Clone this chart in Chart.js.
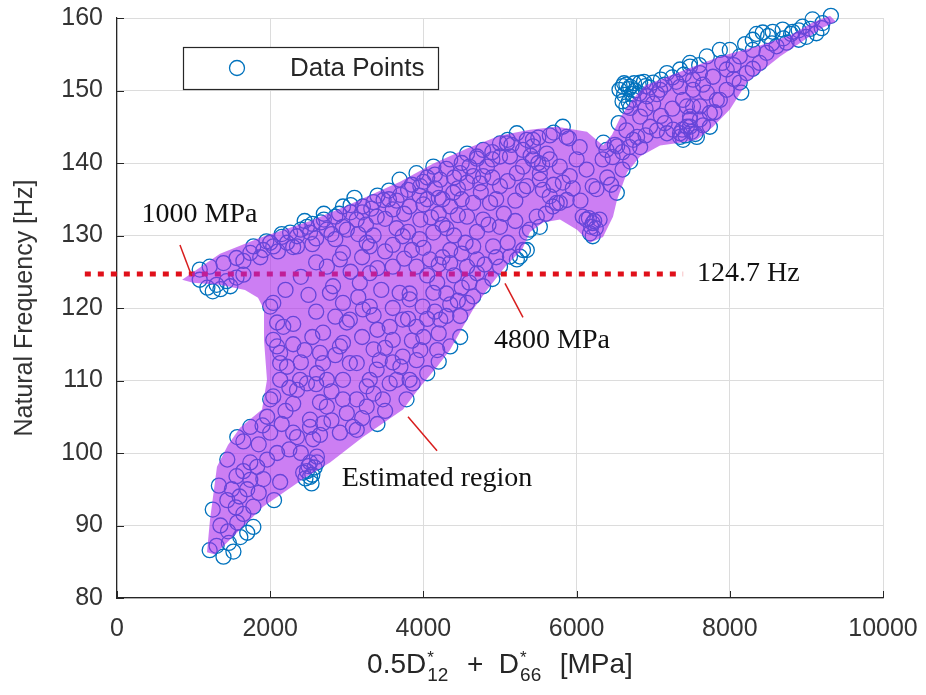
<!DOCTYPE html>
<html>
<head>
<meta charset="utf-8">
<script src="https://cdn.jsdelivr.net/npm/chart.js@4.4.0/dist/chart.umd.min.js"></script>
<style>
  html, body { margin: 0; padding: 0; background: #fff; }
  #wrap { width: 926px; height: 695px; }
</style>
</head>
<body>
<div id="wrap"><canvas id="chart-freq" width="926" height="695"></canvas></div>
<script>
// ==========================================
// Data: (0.5 D*12 + D*66 [MPa], natural frequency [Hz])
// ==========================================

const lowerArm = [
  [1210, 86.6], [1390, 85.7], [1520, 86.4], [1610, 88.4], [1700, 89.0], [1780, 89.8],
  [1570, 90.4], [1440, 93.5], [1250, 92.2], [1780, 92.6], [1440, 99.1], [1650, 101.6],
  [1570, 102.2], [1740, 103.6], [1560, 96.8], [1910, 96.4], [1740, 98.7], [1830, 98.1],
  [1740, 96.3], [1960, 99.1], [2090, 100.0], [1960, 105.0], [2000, 102.8], [2130, 96.0],
  [2050, 93.5], [1300, 87.2], [1460, 87.6], [1650, 91.6], [1330, 95.5], [1850, 101.2],
  [1500, 95.0], [1600, 94.0], [1700, 95.0], [1850, 94.5], [1900, 103.8], [1350, 90.0],
  [1450, 89.2], [1550, 92.5], [1650, 97.5]
];

const cluster2500 = [
  [2480, 97.5], [2550, 97.0], [2500, 98.2], [2580, 98.0], [2460, 96.5], [2540, 95.8],
  [2430, 97.3], [2520, 98.7], [2610, 99.5], [2610, 98.7], [2520, 96.7]
];

const lowerInterior = [
  [2090, 114.7], [2130, 112.4], [2040, 107.8], [2520, 104.6], [2560, 101.9], [2300, 102.8],
  [2390, 110.1], [2690, 112.4], [2910, 114.7], [3130, 112.4], [3300, 110.1], [3560, 109.6],
  [3820, 110.1], [3910, 112.8], [4180, 114.2], [3430, 112.8], [2740, 110.1], [3260, 106.4],
  [3080, 103.6], [2910, 102.8], [2480, 109.6], [2350, 102.2], [2520, 103.6], [2690, 104.1],
  [3130, 103.2], [2740, 106.4], [2950, 107.4], [2000, 107.4], [2130, 113.8], [2220, 111.9],
  [2130, 110.1], [2350, 108.7], [2650, 113.8], [2610, 111.0], [2950, 115.2], [3040, 112.4],
  [2950, 110.1], [3390, 111.5], [3260, 109.2], [3470, 107.4], [3130, 107.4], [3730, 113.3],
  [3650, 110.1], [3860, 109.6], [3780, 107.4], [4050, 111.0], [4200, 112.6], [2800, 108.5],
  [3350, 108.2], [3700, 111.9], [2650, 107.0], [2200, 105.8], [2300, 106.8], [2450, 114.2],
  [2300, 115.0], [2400, 112.5], [2550, 116.0], [2250, 109.0], [2850, 113.5], [3000, 105.5],
  [3200, 104.8], [3500, 105.8], [3600, 112.5], [3350, 114.3], [2800, 104.5], [2600, 109.5],
  [2150, 104.0], [2250, 100.5], [2400, 100.0], [2650, 102.5], [3400, 104.0]
];

const midInterior = [
  [2910, 126.7], [3300, 128.5], [3170, 123.5], [2780, 122.1], [2950, 120.7], [3000, 118.0],
  [3300, 120.2], [2040, 120.7], [2090, 118.0], [2690, 116.6], [3560, 117.4], [3820, 122.0],
  [4085, 126.7], [3730, 129.9], [4180, 123.5], [3990, 120.2], [4300, 118.9], [4480, 116.0],
  [2000, 120.2], [2170, 117.4], [2040, 115.6], [2820, 123.0], [3210, 119.8], [3040, 118.4],
  [2740, 125.7], [2950, 127.6], [3260, 129.0], [3600, 125.7], [3690, 122.1], [3730, 118.4],
  [3600, 115.6], [4570, 120.7], [4480, 118.9], [4350, 114.7], [5000, 125.7], [4780, 123.0],
  [4650, 121.6], [5130, 127.1], [4910, 128.5], [4700, 126.7], [4570, 125.7], [4350, 128.0],
  [4130, 130.4], [3910, 125.7], [3820, 121.2], [4130, 122.1], [4220, 118.4], [3910, 117.4],
  [3960, 114.2], [3400, 125.5], [3500, 127.8], [3300, 124.8], [3600, 128.7], [3750, 126.8],
  [4000, 128.3], [4250, 127.0], [4400, 124.5], [4300, 122.0], [4450, 121.0], [4050, 118.5],
  [3850, 115.5], [3500, 114.5], [3400, 117.0], [3200, 116.0], [3150, 121.5], [2850, 118.8],
  [2600, 119.5], [2500, 121.8], [2400, 124.3], [2300, 117.8], [2200, 122.5], [2600, 126.3]
];

const centerCloud = [
  [3650, 131.0], [3800, 130.5], [3950, 129.5], [4100, 132.5], [4250, 131.5], [4400, 130.0],
  [4550, 129.0], [4700, 130.5], [4850, 131.5], [5050, 133.0], [5200, 132.0], [4950, 135.0],
  [4650, 134.5], [4450, 132.8], [4200, 133.0], [3850, 128.0], [4050, 124.5], [4200, 126.0],
  [4350, 126.2], [4500, 127.5], [4650, 128.5], [4800, 126.0], [4950, 127.0], [4600, 123.5],
  [4500, 122.8], [4350, 120.5], [4150, 119.5], [4700, 124.8], [4900, 124.0], [5100, 129.0],
  [5200, 134.8], [5100, 137.5], [4900, 138.0], [4600, 139.5], [4400, 138.0], [4150, 136.5],
  [3950, 135.5], [4300, 131.0], [4500, 135.0], [4750, 136.0], [5300, 139.5], [5500, 140.0],
  [5700, 137.0], [5950, 136.5], [6050, 134.8], [5600, 133.0], [4050, 138.0], [3800, 136.3],
  [3550, 135.0], [3350, 130.0], [3200, 127.0], [3050, 125.0], [3450, 122.5], [3600, 120.0],
  [3350, 119.0], [3800, 118.5], [4000, 116.0], [4200, 116.5]
];

const leftTip = [
  [1080, 125.3], [1180, 122.8], [1300, 123.2], [1430, 123.7], [1560, 124.2], [1080, 123.9],
  [1210, 125.7], [1390, 126.2], [1560, 126.9], [1250, 122.3], [1350, 122.6], [1480, 123.0],
  [1650, 124.6]
];

const upperBand = [
  [1740, 127.6], [1910, 128.0], [2040, 128.5], [2220, 129.0], [1780, 128.5], [2350, 129.9],
  [2520, 130.4], [2740, 130.8], [2950, 131.2], [3130, 132.2], [3390, 132.6], [3600, 133.6],
  [2480, 131.2], [2260, 130.4], [2000, 129.0], [2950, 134.0], [3210, 134.0], [3320, 133.7],
  [2660, 131.8], [2850, 132.6], [3050, 133.2], [3480, 134.9], [3700, 135.6], [3820, 134.0],
  [3960, 132.2], [4050, 135.0], [3910, 138.6], [3690, 137.7], [4130, 139.5], [4350, 140.5],
  [4570, 141.3], [4780, 141.8], [5000, 142.7], [5220, 144.1], [5350, 143.2], [5820, 145.0],
  [5430, 142.3], [5610, 141.3], [5130, 140.9], [4830, 139.5], [4480, 138.6], [4220, 137.7],
  [3960, 136.8], [4390, 135.9], [4740, 137.2], [5000, 136.8], [5350, 136.8], [5520, 138.6],
  [5780, 139.5], [4350, 134.0], [4570, 132.6], [4780, 132.2], [5000, 131.2], [1650, 126.5],
  [1870, 127.0], [2100, 127.8], [2300, 128.4], [2600, 129.6], [2800, 130.2], [3000, 130.8],
  [3250, 131.5], [3500, 132.3], [3750, 133.0], [4000, 134.3], [4200, 135.2], [4450, 136.5],
  [4650, 138.2], [4900, 140.5], [5150, 142.5], [5400, 141.0], [5650, 143.8], [5900, 143.4],
  [3100, 135.2], [3400, 135.5], [2700, 133.0], [2450, 132.0], [2150, 130.2], [4250, 135.0],
  [1950, 129.2], [2150, 129.8], [2400, 130.8], [2550, 131.6], [2700, 132.2], [2900, 133.0],
  [3050, 134.2], [3200, 133.2], [3350, 134.6], [3550, 136.2], [3650, 134.8], [3850, 137.0],
  [4000, 137.4], [4150, 138.4], [4300, 139.2], [4500, 140.0], [4700, 140.6], [4900, 141.5],
  [5100, 143.2], [5300, 141.8], [5500, 143.5], [5700, 144.2], [5550, 139.8], [2350, 128.5],
  [2550, 128.8], [2850, 129.5], [3150, 130.2]
];

const neck = [
  [5300, 128.0], [5260, 127.1], [5220, 126.7], [5390, 130.8], [5520, 131.2], [6210, 131.7],
  [6175, 130.3], [6130, 132.2], [5690, 134.0], [5780, 134.5], [5430, 143.2], [5870, 143.6],
  [6040, 142.2], [6390, 141.8], [6470, 140.8], [6690, 142.2], [6830, 142.2], [6790, 143.6],
  [6600, 139.1], [6525, 135.9], [6260, 136.4], [6210, 136.8], [6340, 140.5], [6210, 129.9],
  [6080, 132.6], [6300, 132.2], [5740, 134.5], [5650, 135.4], [5820, 137.3], [5910, 138.2],
  [5520, 137.7], [5300, 136.3], [5350, 130.4], [5350, 128.0], [4870, 134.5], [4780, 138.2],
  [4570, 137.3], [4700, 140.9], [5000, 140.9], [5090, 142.7], [5650, 140.5], [6000, 140.5],
  [6130, 139.1], [5430, 140.5], [5220, 138.6], [5560, 136.3], [5870, 134.9], [5480, 132.6],
  [6190, 131.2], [6230, 132.0], [6160, 132.4], [6250, 131.0], [6400, 138.0], [6350, 142.8],
  [6500, 142.5], [6600, 141.5], [6700, 140.2], [6650, 144.5], [6550, 145.5], [6450, 137.0]
];

const cluster150 = [
  [6560, 150.1], [6700, 150.5], [6830, 151.1], [7000, 151.1], [6740, 148.7], [6650, 147.8],
  [6920, 149.2], [7090, 150.1], [7180, 152.4], [7350, 152.9], [7480, 153.8], [7520, 151.5],
  [6830, 146.4], [6960, 145.0], [6740, 143.2], [6530, 142.3], [7180, 144.1], [7260, 144.6],
  [7350, 143.6], [7440, 145.0], [7480, 146.4], [7520, 147.8], [7390, 148.7], [7350, 150.5],
  [6600, 150.6], [6650, 150.8], [6750, 151.0], [6620, 149.4], [6700, 147.6], [6680, 148.4],
  [6900, 150.6], [7100, 151.5], [7250, 151.8], [6620, 151.0], [6680, 150.2], [6760, 150.0],
  [6820, 149.6], [6880, 151.2], [6950, 150.4], [7050, 149.5], [6600, 148.5], [6720, 149.5],
  [7150, 150.8], [7300, 151.2], [7400, 152.2], [7600, 153.5], [7000, 148.2], [6900, 147.5],
  [7100, 146.5], [7250, 147.5], [7050, 144.5], [6900, 143.8], [7150, 145.5]
];

const upperRight = [
  [7350, 144.1], [7480, 145.0], [7610, 146.0], [7740, 146.9], [7830, 148.7], [7960, 150.1],
  [8130, 151.1], [8220, 152.4], [8390, 153.8], [8480, 155.2], [8610, 156.1], [8430, 158.0],
  [8560, 158.1], [8690, 158.4], [8820, 158.1], [8950, 158.8], [9080, 159.8], [9210, 159.3],
  [9320, 160.3], [9130, 157.9], [9000, 157.4], [8740, 156.6], [7480, 153.3], [7700, 154.7],
  [7870, 155.6], [8000, 155.6], [8130, 154.7], [7610, 152.4], [7780, 151.9], [7960, 152.9],
  [7520, 150.1], [7700, 149.7], [7870, 148.7], [7440, 147.8], [7610, 147.8], [7740, 145.0],
  [7570, 143.6], [7390, 143.2], [7480, 146.0], [7420, 143.8], [7500, 144.3], [7380, 144.6],
  [7550, 144.0], [8300, 157.0], [8500, 157.5], [8800, 157.8], [8900, 158.3], [9200, 158.6],
  [7650, 150.8], [7900, 153.8], [8050, 153.5], [8300, 155.6], [8550, 156.5], [8700, 157.2],
  [8200, 156.4], [8350, 157.8], [8050, 151.6], [7800, 147.0], [7650, 145.2], [8150, 149.7],
  [8300, 153.0], [8900, 157.0], [9050, 158.5]
];

// outline of the estimated region
const regionX = [
  850, 1345, 1867, 2520, 2977, 3695, 4125, 4569, 5000, 5392, 5744, 6136, 6345, 6462,
  6567, 6723, 6893, 7350, 7872, 8394, 8786, 9086, 9308, 9386, 9217, 8655, 8225, 8003,
  7781, 7572, 7350, 7089, 6828, 6658, 6527, 6475, 6345, 6175, 6005, 5783, 5561, 5392,
  5287, 5091, 4830, 4648, 4517, 4347, 4178, 3956, 3734, 3211, 2781, 2454, 1906, 1606,
  1279, 1175, 1214, 1305, 1449, 1606, 1893, 1958, 1919, 1919, 1841, 1671, 1345, 992
];
const regionY = [
  123.9, 127.5, 129.7, 132.0, 134.0, 137.4, 139.9, 142.0, 143.8, 144.6, 145.0, 144.3, 142.4, 143.9,
  146.2, 148.7, 150.7, 152.6, 154.7, 156.2, 157.6, 159.4, 160.3, 159.5, 158.7, 154.7, 151.1, 147.4,
  145.0, 143.2, 142.8, 142.4, 140.9, 138.7, 134.9, 132.6, 129.8, 129.0, 130.8, 132.2, 131.8, 130.5,
  128.0, 126.0, 122.5, 119.8, 117.4, 114.2, 111.9, 109.1, 106.0, 102.2, 98.7, 96.6, 92.6, 89.4,
  86.0, 86.3, 90.8, 98.1, 101.1, 103.5, 106.0, 110.1, 115.6, 119.8, 121.4, 122.5, 123.2, 123.5
];

const thresholdHz = 124.7;
const thresholdFrom = -420;
const thresholdTo = 7390;

const xTicks = [0, 2000, 4000, 6000, 8000, 10000];
const yTicks = [80, 90, 100, 110, 120, 130, 140, 150, 160];

const allPoints = [].concat(lowerArm, cluster2500, lowerInterior, midInterior, centerCloud,
  leftTip, upperBand, neck, cluster150, upperRight);

// ==========================================
// Styles
// ==========================================

const AXIS_FONT = "'Liberation Sans', Arial, Helvetica, sans-serif";
const NOTE_FONT = "'Liberation Serif', 'Times New Roman', serif";
const AXIS_COLOR = '#262626';
const MARKER_COLOR = 'rgb(0, 114, 189)';
const REGION_COLOR = 'rgba(170, 40, 235, 0.6)';
const NOTE_RED = '#d81e1e';

// keep the plot box fixed regardless of label overhang
function fixScaleBox(scale, size) {
  if (scale.isHorizontal()) scale.height = size;
  else scale.width = size;
  scale.paddingTop = 0;
  scale.paddingBottom = 0;
  scale.paddingLeft = 0;
  scale.paddingRight = 0;
}

// ==========================================
// Estimated region (drawn over the markers)
// ==========================================

const regionPlugin = {
  id: 'estimatedRegion',
  afterDatasetsDraw(chart) {
    const { ctx, scales: { x, y } } = chart;
    ctx.save();
    ctx.beginPath();
    regionX.forEach((v, i) => {
      const px = x.getPixelForValue(v);
      const py = y.getPixelForValue(regionY[i]);
      if (i === 0) ctx.moveTo(px, py);
      else ctx.lineTo(px, py);
    });
    ctx.closePath();
    ctx.fillStyle = REGION_COLOR;
    ctx.fill();
    ctx.restore();
  }
};

// ==========================================
// Axis extras, legend box, notes
// ==========================================

function drawPointer(ctx, x, y, x0, y0, x1, y1) {
  ctx.beginPath();
  ctx.moveTo(x.getPixelForValue(x0), y.getPixelForValue(y0));
  ctx.lineTo(x.getPixelForValue(x1), y.getPixelForValue(y1));
  ctx.stroke();
}

function drawXTitle(ctx, area) {
  const big = '28px ' + AXIS_FONT;
  const small = '19px ' + AXIS_FONT;
  const sup = '17px ' + AXIS_FONT;
  const parts = [
    { text: '0.5D' },
    { sub: '12', sup: '*' },
    { text: '  +  D' },
    { sub: '66', sup: '*' },
    { text: '  [MPa]' }
  ];
  let total = 0;
  parts.forEach(p => {
    if (p.text) { ctx.font = big; p.w = ctx.measureText(p.text).width; }
    else {
      ctx.font = small; const a = ctx.measureText(p.sub).width;
      ctx.font = sup; const b = ctx.measureText(p.sup).width;
      p.w = Math.max(a, b) + 4;
    }
    total += p.w;
  });
  let cx = (area.left + area.right) / 2 - total / 2;
  const base = 673;
  ctx.fillStyle = AXIS_COLOR;
  ctx.textAlign = 'left';
  ctx.textBaseline = 'alphabetic';
  parts.forEach(p => {
    if (p.text) {
      ctx.font = big;
      ctx.fillText(p.text, cx, base);
    } else {
      ctx.font = small;
      ctx.fillText(p.sub, cx + 1, base + 8);
      ctx.font = sup;
      ctx.fillText(p.sup, cx + 1, base - 10);
    }
    cx += p.w;
  });
}

const decorPlugin = {
  id: 'decor',
  afterDraw(chart) {
    const { ctx, chartArea: area, scales: { x, y } } = chart;
    ctx.save();

    // inward tick marks
    ctx.strokeStyle = AXIS_COLOR;
    ctx.lineWidth = 1;
    yTicks.forEach(v => {
      const py = Math.round(y.getPixelForValue(v)) + 0.5;
      ctx.beginPath();
      ctx.moveTo(area.left, py);
      ctx.lineTo(area.left + 7, py);
      ctx.stroke();
    });
    xTicks.forEach(v => {
      const px = Math.round(x.getPixelForValue(v)) + 0.5;
      ctx.beginPath();
      ctx.moveTo(px, area.bottom);
      ctx.lineTo(px, area.bottom - 7);
      ctx.stroke();
    });

    // legend box
    const lx = area.left + 66, ly = area.top + 29;
    ctx.fillStyle = '#fff';
    ctx.fillRect(lx, ly, 255, 42);
    ctx.strokeStyle = AXIS_COLOR;
    ctx.lineWidth = 1.2;
    ctx.strokeRect(lx + 0.5, ly + 0.5, 255, 42);
    ctx.beginPath();
    ctx.arc(lx + 54, ly + 21, 7.5, 0, Math.PI * 2);
    ctx.strokeStyle = MARKER_COLOR;
    ctx.lineWidth = 1.3;
    ctx.stroke();
    ctx.fillStyle = AXIS_COLOR;
    ctx.font = '26px ' + AXIS_FONT;
    ctx.textBaseline = 'middle';
    ctx.textAlign = 'left';
    ctx.fillText('Data Points', lx + 107, ly + 22);

    // notes and pointers
    ctx.strokeStyle = NOTE_RED;
    ctx.lineWidth = 1.5;
    drawPointer(ctx, x, y, 822, 128.7, 975, 124.4);
    drawPointer(ctx, x, y, 5065, 123.4, 5300, 118.7);
    drawPointer(ctx, x, y, 3799, 105.0, 4178, 100.3);

    ctx.fillStyle = '#111';
    ctx.font = '28px ' + NOTE_FONT;
    ctx.textBaseline = 'alphabetic';
    ctx.fillText('1000 MPa', x.getPixelForValue(320), y.getPixelForValue(131.9));
    ctx.fillText('4800 MPa', x.getPixelForValue(4922), y.getPixelForValue(114.5));
    ctx.fillText('Estimated region', x.getPixelForValue(2933), y.getPixelForValue(95.4));
    ctx.textBaseline = 'middle';
    ctx.fillText('124.7 Hz', x.getPixelForValue(7572), y.getPixelForValue(thresholdHz));

    drawXTitle(ctx, area);
    ctx.restore();
  }
};

// ==========================================
// Chart
// ==========================================

const ctx = document.getElementById('chart-freq');

new Chart(ctx, {
  type: 'scatter',
  data: {
    datasets: [
      {
        label: 'Data Points',
        data: allPoints.map(p => ({ x: p[0], y: p[1] })),
        pointRadius: 7.5,
        pointHoverRadius: 7.5,
        pointBorderWidth: 1.3,
        pointBorderColor: MARKER_COLOR,
        pointBackgroundColor: 'rgba(0,0,0,0)',
        clip: false,
        order: 2
      },
      {
        type: 'line',
        label: '124.7 Hz',
        data: [{ x: thresholdFrom, y: thresholdHz }, { x: thresholdTo, y: thresholdHz }],
        borderColor: '#e0101a',
        borderWidth: 5,
        borderDash: [6, 7],
        borderCapStyle: 'butt',
        pointRadius: 0,
        fill: false,
        clip: false,
        order: 1
      }
    ]
  },
  options: {
    responsive: false,
    animation: false,
    events: [],
    layout: { padding: { top: 18, right: 43, left: 0, bottom: 0 } },
    plugins: {
      legend: { display: false },
      tooltip: { enabled: false }
    },
    scales: {
      x: {
        type: 'linear',
        min: 0,
        max: 10000,
        afterBuildTicks: scale => { scale.ticks = xTicks.map(v => ({ value: v })); },
        ticks: {
          font: { family: AXIS_FONT, size: 25 },
          color: '#333',
          padding: 16,
          maxRotation: 0,
          callback: v => String(v)
        },
        grid: { color: '#dcdcdc', drawTicks: false },
        border: { color: AXIS_COLOR, width: 1.2 },
        afterFit: scale => fixScaleBox(scale, 97)
      },
      y: {
        min: 80,
        max: 160,
        afterBuildTicks: scale => { scale.ticks = yTicks.map(v => ({ value: v })); },
        ticks: {
          font: { family: AXIS_FONT, size: 25 },
          color: '#333',
          padding: 14,
          callback: v => String(v)
        },
        grid: { color: '#dcdcdc', drawTicks: false },
        border: { color: AXIS_COLOR, width: 1.2 },
        title: {
          display: true,
          text: 'Natural Frequency [Hz]',
          font: { family: AXIS_FONT, size: 25 },
          color: '#333',
          padding: { top: 10, bottom: 0 }
        },
        afterFit: scale => fixScaleBox(scale, 117)
      }
    }
  },
  plugins: [regionPlugin, decorPlugin]
});
</script>
</body>
</html>
